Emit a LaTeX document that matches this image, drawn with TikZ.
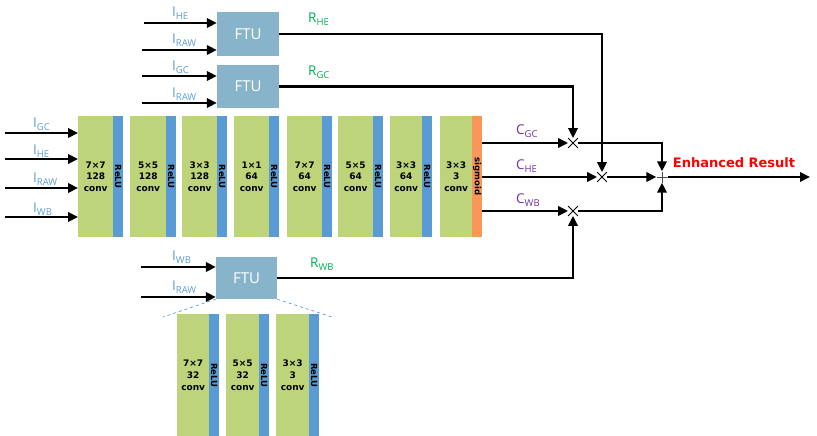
\documentclass[tikz,border=0pt]{standalone}
\usepackage{fontspec}
\setmainfont{Open Sans}
\newfontfamily\dvs{DejaVu Sans}
\usetikzlibrary{arrows.meta,shapes.misc}
\definecolor{cgreen}{RGB}{189,212,122}
\definecolor{cblue}{RGB}{91,155,213}
\definecolor{corange}{RGB}{250,150,90}
\definecolor{cftu}{RGB}{135,180,203}
\definecolor{ilab}{RGB}{91,155,213}
\definecolor{rlab}{RGB}{0,176,80}
\definecolor{clab}{RGB}{112,48,160}
\newcommand\lab[2]{#1\raisebox{-3pt}{\fontsize{9.5}{9.5}\selectfont #2}}
\begin{document}
\begin{tikzpicture}[x=1pt,y=-1pt,
  gbox/.style={fill=cgreen, draw=none, anchor=north west, inner sep=0pt, align=center,
    font=\dvs\bfseries\fontsize{9}{11.8}\selectfont, text=black},
  rbar/.style={fill=cblue, draw=none, anchor=north west, inner sep=0pt, minimum width=10pt},
  obar/.style={fill=corange, draw=none, anchor=north west, inner sep=0pt, minimum width=10pt},
  vtext/.style={rotate=-90, font=\dvs\bfseries\fontsize{8.5}{8.5}\selectfont, inner sep=0pt},
  ftubox/.style={fill=cftu, draw=none, text=white, font=\fontsize{15}{15}\selectfont, inner sep=0pt},
  arr/.style={line width=2.1pt, -{Triangle[length=10pt,width=9.5pt]}},
  ilabel/.style={text=ilab, font=\fontsize{13.5}{13.5}\selectfont, anchor=west, inner sep=0pt},
  rlabel/.style={text=rlab, font=\fontsize{13.5}{13.5}\selectfont, anchor=west, inner sep=0pt},
  clabel/.style={text=clab, font=\fontsize{13.5}{13.5}\selectfont, anchor=west, inner sep=0pt},
  mult/.style={cross out, draw=black, line width=0.8pt, minimum size=9pt, inner sep=0pt},
]
\useasboundingbox (0,0) rectangle (817,436);

% main conv blocks
\foreach \x/\w/\a/\b [count=\i] in {78/35/7×7/128, 130/36/5×5/128, 182/35/3×3/128, 234/35/1×1/64, 287/35/7×7/64, 338/35/5×5/64, 390/32/3×3/64}{
  \node[gbox, minimum width=\w pt, minimum height=121pt] (g\i) at (\x,116) {\a\\\b\\conv};
  \node[rbar, minimum height=121pt] (r\i) at (\x+\w,116) {};
  \node[vtext] (rt\i) at (r\i.center) {ReLU};
}
\node[gbox, minimum width=32pt, minimum height=121pt] (g8) at (440,116) {3×3\\3\\conv};
\node[obar, minimum height=121pt] (r8) at (472,116) {};
\node[vtext] (rt8) at (r8.center) {sigmoid};

% lower conv blocks (FTU detail)
\foreach \x/\w/\a/\b [count=\i] in {177/32/7×7/32, 226/33/5×5/32, 276/33/3×3/3}{
  \node[gbox, minimum width=\w pt, minimum height=122pt] (lg\i) at (\x,314) {\a\\\b\\conv};
  \node[rbar, minimum height=122pt] (lr\i) at (\x+\w,314) {};
  \node[vtext] (lrt\i) at (lr\i.center) {ReLU};
}

% FTU boxes
\node[ftubox, minimum width=62pt, minimum height=44pt] (ftu1) at (248,34) {FTU};
\node[ftubox, minimum width=62pt, minimum height=43pt] (ftu2) at (248,86.5) {FTU};
\node[ftubox, minimum width=61pt, minimum height=42pt] (ftu3) at (246.5,278) {FTU};

% dashed zoom lines
\coordinate (zl) at (163,317);
\coordinate (zr) at (332,317);
\draw[cblue, dashed, line width=0.7pt] (ftu3.south west) -- (zl);
\draw[cblue, dashed, line width=0.7pt] (ftu3.south east) -- (zr);

% input arrows: main network
\foreach \y/\n in {133/a, 159/b, 188/c, 217/d}{
  \coordinate (in\n) at (5,\y);
  \draw[arr] (in\n) -- (in\n -| g1.west);
}
\node[ilabel] (lgc) at (33,124) {\lab{I}{GC}};
\node[ilabel] (lhe) at (33,151) {\lab{I}{HE}};
\node[ilabel] (lraw) at (33,179) {\lab{I}{RAW}};
\node[ilabel] (lwb) at (33,209) {\lab{I}{WB}};

% input arrows: FTUs
\coordinate (f1a) at (144,23);  \draw[arr] (f1a) -- (f1a -| ftu1.west);
\coordinate (f1b) at (142,50);  \draw[arr] (f1b) -- (f1b -| ftu1.west);
\coordinate (f2a) at (142,76);  \draw[arr] (f2a) -- (f2a -| ftu2.west);
\coordinate (f2b) at (142,103); \draw[arr] (f2b) -- (f2b -| ftu2.west);
\coordinate (f3a) at (141,267); \draw[arr] (f3a) -- (f3a -| ftu3.west);
\coordinate (f3b) at (141,297); \draw[arr] (f3b) -- (f3b -| ftu3.west);
\node[ilabel] (t1a) at (172,13) {\lab{I}{HE}};
\node[ilabel] (t1b) at (172,40) {\lab{I}{RAW}};
\node[ilabel] (t2a) at (172,67) {\lab{I}{GC}};
\node[ilabel] (t2b) at (172,94) {\lab{I}{RAW}};
\node[ilabel] (t3a) at (172,257) {\lab{I}{WB}};
\node[ilabel] (t3b) at (172,287) {\lab{I}{RAW}};

% multiplication and sum nodes
\node[mult] (mgc) at (573,143) {};
\node[mult] (mhe) at (602,177) {};
\node[mult] (mwb) at (573,211) {};
\node[minimum size=11pt, inner sep=0pt, path picture={
  \draw[black!70, line width=0.9pt] (path picture bounding box.north) -- (path picture bounding box.south);
  \draw[black!70, line width=0.9pt] (path picture bounding box.west) -- (path picture bounding box.east);}] (plus) at (662,177) {};
\coordinate (out) at (810,177);

% FTU outputs
\draw[arr] (ftu1.east) -| (mhe.north);
\draw[arr] (ftu2.east) -| (mgc.north);
\draw[arr] (ftu3.east) -| (mwb.south);
\node[rlabel] (rhe) at (308,19) {\lab{R}{HE}};
\node[rlabel] (rgc) at (308,72) {\lab{R}{GC}};
\node[rlabel] (rwb) at (310,264) {\lab{R}{WB}};

% C lines
\draw[arr] (r8.east |- mgc) -- (mgc.west);
\draw[arr] (r8.east |- mhe) -- (mhe.west);
\draw[arr] (r8.east |- mwb) -- (mwb.west);
\node[clabel] (cgc) at (516,131) {\lab{C}{GC}};
\node[clabel] (che) at (516,166) {\lab{C}{HE}};
\node[clabel] (cwb) at (516,200) {\lab{C}{WB}};

% to sum
\draw[arr] (mgc.east) -| (plus.north);
\draw[arr] (mwb.east) -| (plus.south);
\draw[arr] (mhe.east) -- (plus.west);
\draw[arr] (plus.east) -- (out);
\node[text=red, font=\dvs\bfseries\fontsize{13}{13}\selectfont, inner sep=0pt] (res) at (734,163) {Enhanced Result};
\end{tikzpicture}
\end{document}
